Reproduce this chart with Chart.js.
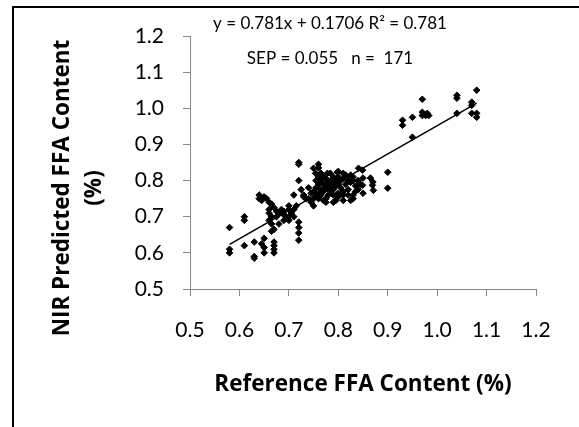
<!DOCTYPE html>
<html><head><meta charset="utf-8">
<script src="https://cdn.jsdelivr.net/npm/chart.js@4"></script>
<style>
html,body{margin:0;padding:0;background:#fff;}
#wrap{position:relative;width:579px;height:427px;overflow:hidden;background:#fff;}
#frame{position:absolute;left:12px;top:6px;width:600px;height:500px;border-left:2px solid #000;border-top:2px solid #000;}
canvas{position:absolute;left:0;top:0;}
</style></head><body>
<div id="wrap"><div id="frame"></div><canvas id="c" width="579" height="427"></canvas></div>
<script>
// Reference FFA content (%) — x values
const refX = [
0.58,0.58,0.58,0.61,0.61,0.61,0.63,0.63,0.63,0.645,0.65,0.65,0.65,0.67,0.67,0.67,0.67,
0.64,0.64,0.645,0.65,0.655,0.66,0.665,0.66,0.66,0.665,0.66,0.665,0.67,0.675,0.68,0.685,
0.69,0.695,0.70,0.70,0.70,0.705,0.71,0.71,0.68,0.69,0.675,0.67,0.665,0.72,0.72,0.72,0.72,
0.72,0.72,0.72,0.725,0.71,0.73,0.735,0.74,0.745,0.75,0.69,0.70,0.715,
0.76,0.76,0.75,0.754,0.765,0.768,0.778,0.784,0.798,0.81,0.825,0.841,0.849,0.90,0.90,
0.865,0.869,0.871,0.87,0.85,0.849,0.85,0.83,0.83,0.835,0.81,0.795,0.79,0.775,0.77,0.76,
0.755,0.75,0.755,0.76,0.765,0.77,0.775,0.78,0.785,0.79,0.795,0.80,0.805,0.81,0.815,0.82,
0.825,0.82,0.78,0.785,0.79,0.80,0.80,0.805,0.81,0.77,0.775,0.765,0.76,0.79,0.795,0.775,
0.78,0.785,0.83,0.835,0.84,0.845,0.84,0.83,0.815,0.80,0.76,0.755,0.77,0.78,0.79,0.80,
0.81,0.82,0.825,0.775,0.765,0.75,0.745,0.74,0.73,0.80,
0.93,0.93,0.95,0.95,0.97,0.97,0.98,0.977,0.97,0.983,1.04,1.04,1.04,1.07,1.07,1.07,1.08,1.08,1.08
];
// NIR predicted FFA content (%) — y values
const nirY = [
0.67,0.61,0.60,0.62,0.69,0.70,0.63,0.59,0.585,0.625,0.64,0.615,0.60,0.63,0.62,0.61,0.60,
0.76,0.75,0.745,0.755,0.75,0.74,0.735,0.72,0.71,0.70,0.69,0.68,0.665,0.70,0.71,0.72,
0.715,0.70,0.72,0.73,0.69,0.71,0.70,0.72,0.68,0.69,0.715,0.725,0.66,0.685,0.67,0.655,0.635,
0.85,0.845,0.80,0.775,0.76,0.755,0.75,0.75,0.74,0.73,0.705,0.70,0.73,
0.845,0.835,0.834,0.82,0.82,0.815,0.82,0.82,0.823,0.82,0.815,0.834,0.829,0.823,0.779,
0.807,0.787,0.773,0.796,0.807,0.787,0.765,0.76,0.75,0.77,0.745,0.745,0.74,0.74,0.745,0.75,
0.76,0.77,0.78,0.79,0.80,0.77,0.78,0.79,0.80,0.81,0.80,0.79,0.78,0.77,0.79,0.80,
0.795,0.775,0.76,0.77,0.775,0.765,0.81,0.80,0.805,0.81,0.805,0.775,0.765,0.79,0.785,0.79,
0.80,0.785,0.80,0.785,0.80,0.79,0.775,0.81,0.815,0.825,0.81,0.80,0.79,0.775,0.76,0.755,
0.76,0.76,0.745,0.75,0.76,0.75,0.765,0.78,0.76,0.80,
0.967,0.953,0.975,0.92,1.025,0.989,0.986,0.98,0.98,0.98,1.036,1.028,0.986,1.017,1.008,0.986,0.986,0.975,1.05
];
const xTicks = [0.5,0.6,0.7,0.8,0.9,1.0,1.1,1.2];
const yTicks = [0.5,0.6,0.7,0.8,0.9,1.0,1.1,1.2];
const slope = 0.781, intercept = 0.1706;
const eqLine1 = 'y = 0.781x + 0.1706 R\u00b2 = 0.781';
const eqLine2 = 'SEP = 0.055   n =  171';
const xTitle = 'Reference FFA Content (%)';
const yTitle1 = 'NIR Predicted FFA Content';
const yTitle2 = '(%)';

const points = refX.map((x,i)=>({x:x,y:nirY[i]}));
const xMin = Math.min(...refX), xMax = Math.max(...refX);
const trend = [{x:xMin,y:slope*xMin+intercept},{x:xMax,y:slope*xMax+intercept}];

const textPlugin = {
  id:'texts',
  afterDraw(chart){
    const ctx = chart.ctx, a = chart.chartArea;
    ctx.save();
    ctx.fillStyle = '#000';
    ctx.textAlign = 'center';
    ctx.textBaseline = 'middle';
    ctx.font = '17px Lato';
    ctx.fillText(eqLine1, 330, 24);
    ctx.fillText(eqLine2, 330, 59);
    ctx.font = 'bold 22.5px "Open Sans"';
    ctx.fillText(xTitle, (a.left+a.right)/2, 385);
    ctx.translate(63, 188);
    ctx.rotate(-Math.PI/2);
    ctx.fillText(yTitle1, 0, 0);
    ctx.fillText(yTitle2, 0, 32);
    ctx.restore();
  }
};

const axisGray = '#868686';
function draw(){
  Chart.defaults.font.family = 'Lato';
  new Chart(document.getElementById('c'), {
    type:'scatter',
    data:{datasets:[
      {data:points, pointStyle:'rectRot', radius:3.3, backgroundColor:'#000', borderColor:'#000', borderWidth:1, order:2},
      {type:'line', data:trend, borderColor:'#000', borderWidth:1.5, pointRadius:0, fill:false, order:1}
    ]},
    options:{
      responsive:false, animation:false, devicePixelRatio:1,
      layout:{padding:{top:36,right:43,left:0,bottom:0}},
      plugins:{legend:{display:false}, tooltip:{enabled:false}},
      scales:{
        x:{type:'linear', min:0.5, max:1.2,
          afterBuildTicks:s=>{s.ticks = xTicks.map(v=>({value:v}));},
          afterFit:s=>{s.height = 138;},
          ticks:{callback:v=>v.toFixed(1), color:'#000', font:{size:21}, padding:22, maxRotation:0},
          grid:{drawOnChartArea:false, drawTicks:true, tickLength:7, color:axisGray},
          border:{color:axisGray, width:1}},
        y:{type:'linear', min:0.5, max:1.2,
          afterBuildTicks:s=>{s.ticks = yTicks.map(v=>({value:v}));},
          afterFit:s=>{s.width = 190;},
          ticks:{callback:v=>v.toFixed(1), color:'#000', font:{size:21}, padding:19},
          grid:{drawOnChartArea:false, drawTicks:true, tickLength:7, color:axisGray},
          border:{color:axisGray, width:1}}
      }
    },
    plugins:[textPlugin]
  });
}
if (document.fonts && document.fonts.load) {
  Promise.all([document.fonts.load('17px Lato'), document.fonts.load('bold 22.5px "Open Sans"')]).then(draw, draw);
} else draw();
</script>
</body></html>
